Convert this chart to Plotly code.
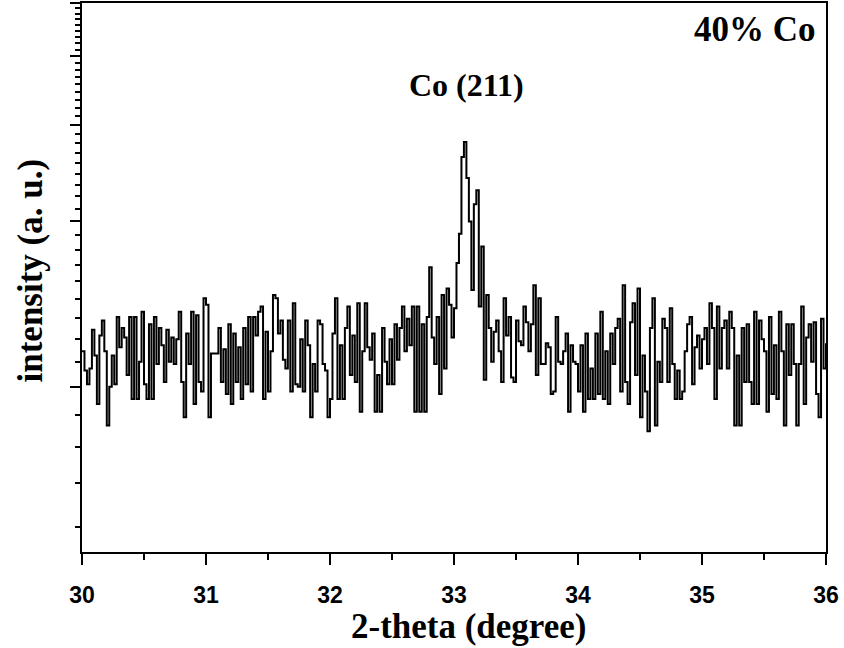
import numpy as np
import plotly.graph_objects as go

# XRD scan, 2-theta 30-36 deg, step 0.02 deg (counts, log axis)
scan_start = 30.0
scan_step = 0.02

intensity_a = [116, 107, 101, 108, 127, 114, 93, 124, 132, 116,
               85, 100, 114, 101, 134, 118, 128, 123, 105, 134,
               95, 134, 95, 111, 137, 101, 95, 130, 95, 134,
               110, 128, 119, 102, 127, 111, 123, 110, 122, 137,
               102, 88, 125, 110, 137, 93, 135, 102, 98, 145,
               141, 88, 115, 115, 115, 128, 102, 117, 97, 130,
               93, 125, 102, 118, 95, 128, 101, 134, 98, 134,
               124, 137, 140, 95, 126, 98]
intensity_b = [116, 147, 145, 125, 132, 112, 108, 132, 98, 142,
               101, 100, 122, 98, 132, 119, 88, 110, 98, 132,
               130, 110, 107, 88, 95, 125, 145, 95, 119, 95,
               128, 140, 105, 124, 102, 142, 90, 116, 142, 118,
               112, 125, 90, 105, 90, 128, 111, 101, 122, 101,
               130, 112, 128, 140, 116, 133, 119, 140, 90, 140,
               90, 130, 90, 134, 165, 123, 110, 134, 97, 147,
               108, 151, 141, 123, 139, 168]
intensity_c = [190, 262, 279, 240, 200, 150, 215, 228, 140, 180,
               103, 147, 128, 111, 126, 132, 116, 102, 145, 124,
               134, 104, 102, 132, 121, 119, 140, 131, 116, 130,
               153, 105, 145, 110, 110, 120, 118, 97, 98, 134,
               111, 110, 116, 125, 90, 119, 111, 110, 98, 119,
               90, 125, 95, 108, 95, 125, 97, 137, 95, 116,
               93, 125, 110, 128, 133, 98, 153, 102, 93, 131,
               142, 105, 151, 88, 114, 98]
intensity_d = [83, 128, 145, 85, 111, 102, 133, 128, 102, 139,
               110, 95, 107, 95, 98, 116, 130, 134, 101, 118,
               124, 108, 122, 128, 110, 142, 128, 95, 140, 108,
               128, 132, 108, 137, 128, 85, 114, 85, 128, 102,
               130, 102, 93, 137, 93, 132, 122, 116, 90, 134,
               97, 119, 95, 137, 116, 85, 130, 105, 130, 110,
               85, 110, 140, 93, 123, 130, 111, 131, 97, 88,
               133, 108, 120]

intensity = intensity_a + intensity_b + intensity_c + intensity_d
two_theta = np.round(scan_start + scan_step * np.arange(len(intensity)), 2)

x_tick_vals = [30, 31, 32, 33, 34, 35, 36]
x_tick_text = ["30", "31", "32", "33", "34", "35", "36"]
y_major_vals = [100, 200, 300, 400, 500]
y_minor_vals = ([100 - k * 100 / 9 for k in range(1, 5)] +
                [n * 100 + k * 100 / 9 for n in range(1, 5) for k in range(1, 9)])

peak_label = "Co (211)"
peak_label_x = 33.10
sample_label = "40% Co"
x_title = "2-theta (degree)"
y_title = "intensity (a. u.)"

serif = "Liberation Serif, Times New Roman, serif"
sans = "Liberation Sans, Arial, sans-serif"

fig = go.Figure()
fig.add_trace(go.Scatter(
    x=two_theta, y=intensity, mode="lines",
    line=dict(color="black", width=2, shape="hv"),
    showlegend=False, hoverinfo="skip"))

fig.update_layout(
    width=844, height=648,
    margin=dict(l=82, r=18, t=3, b=96),
    paper_bgcolor="white", plot_bgcolor="white",
    showlegend=False,
)

fig.update_xaxes(
    range=[30, 36], tickmode="array", tickvals=x_tick_vals, ticktext=x_tick_text,
    ticks="outside", ticklen=11, tickwidth=2, tickcolor="black",
    ticklabelstandoff=10,
    minor=dict(dtick=0.5, ticks="outside", ticklen=6, tickwidth=2, tickcolor="black"),
    showline=True, linewidth=2, linecolor="black", mirror=True,
    showgrid=False, zeroline=False, automargin=False,
    tickfont=dict(family=sans, size=23, color="black", weight="bold"),
)

fig.update_yaxes(
    type="log", range=[np.log10(50), np.log10(500)],
    tickmode="array", tickvals=y_major_vals, showticklabels=False,
    ticks="outside", ticklen=10, tickwidth=2, tickcolor="black",
    minor=dict(tickmode="array", tickvals=y_minor_vals, ticks="outside",
               ticklen=5, tickwidth=2, tickcolor="black"),
    showline=True, linewidth=2, linecolor="black", mirror=True,
    showgrid=False, zeroline=False, automargin=False,
)

# axis titles
fig.add_annotation(
    x=0.5, xref="paper", y=0, yref="paper", xshift=15, yshift=-74,
    text=x_title, showarrow=False, xanchor="center", yanchor="middle",
    font=dict(family=serif, size=35, color="black", weight="bold"))
fig.add_annotation(
    x=0, xref="paper", y=0.5, yref="paper", xshift=-52, yshift=7,
    text=y_title, showarrow=False, textangle=-90,
    xanchor="center", yanchor="middle",
    font=dict(family=serif, size=35, color="black", weight="bold"))

fig.add_annotation(
    x=peak_label_x, xref="x", y=0.85, yref="paper",
    text=peak_label, showarrow=False, xanchor="center", yanchor="middle",
    font=dict(family=serif, size=32, color="black", weight="bold"))
fig.add_annotation(
    x=1, xref="paper", y=1, yref="paper", xshift=-8, yshift=-26,
    text=sample_label, showarrow=False, xanchor="right", yanchor="middle",
    font=dict(family=serif, size=35, color="black", weight="bold"))

fig.write_html("out.html", config={"displayModeBar": False},
               post_script="document.body.style.margin='0';document.body.style.overflow='hidden';")
